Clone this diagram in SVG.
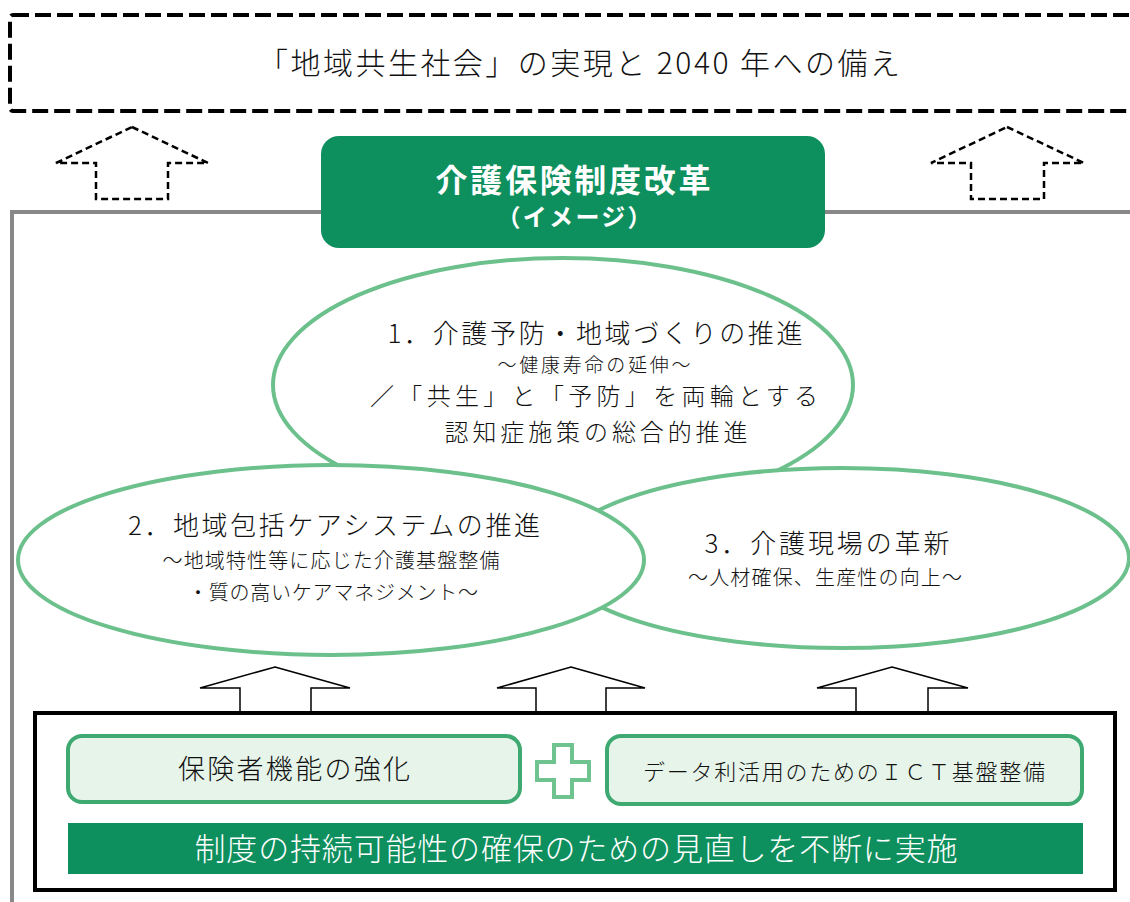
<svg xmlns="http://www.w3.org/2000/svg" width="1130" height="902" viewBox="0 0 1130 902">
<style>
text{font-family:"Noto Sans CJK JP","Noto Sans CJK SC",sans-serif;text-anchor:middle;fill:#111;font-weight:300;}
.ell{fill:#fff;stroke:#6cc08c;stroke-width:4;}
.darr{fill:none;stroke:#000;stroke-width:2.5;stroke-dasharray:7 4;stroke-linejoin:miter;}
.sarr{fill:#fff;stroke:#000;stroke-width:1.5;}
.gray{fill:none;stroke:#888;stroke-width:4;}
.lbox{fill:#e6f4e9;stroke:#3fa972;stroke-width:4;}
.dark{fill:#0e8f5e;}
.w{fill:#fff;}
.b{font-weight:bold;}
</style>
<rect width="1130" height="902" fill="#fff"/>

<g id="goal">
<rect x="10" y="15" width="1140" height="96" rx="3" fill="none" stroke="#000" stroke-width="4" stroke-dasharray="16 6"/>
<text x="579" y="74" font-size="30" textLength="642" lengthAdjust="spacing">「地域共生社会」の実現と 2040 年への備え</text>
</g>

<g id="connectors">
<polygon class="darr" points="132,127 208,163 168,163 168,199 96,199 96,163 56,163"/>
<polygon class="darr" points="1007,127 1084,163 1044,163 1044,199 971,199 971,163 931,163"/>
<path class="gray" d="M12,902 V212 H321 M825,212 H1130"/>
<polygon class="sarr" points="275,667 350,688 311,688 311,712 240,712 240,688 200,688"/>
<polygon class="sarr" points="571,667 645,688 606,688 606,712 536,712 536,688 497,688"/>
<polygon class="sarr" points="892,667 968,688 928,688 928,712 856,712 856,688 817,688"/>
</g>

<g id="reform">
<rect x="321" y="136" width="504" height="112" rx="18" class="dark"/>
<text class="w b" x="573" y="192" font-size="32" textLength="275" lengthAdjust="spacing">介護保険制度改革</text>
<text class="w b" x="574" y="226" font-size="24" textLength="155" lengthAdjust="spacing">（イメージ）</text>
</g>

<g id="pillar1">
<ellipse class="ell" cx="563" cy="385" rx="290" ry="127"/>
<text x="595" y="343" font-size="26" textLength="415" lengthAdjust="spacing">1．介護予防・地域づくりの推進</text>
<text x="594" y="372" font-size="19" textLength="193" lengthAdjust="spacing">～健康寿命の延伸～</text>
<text x="594" y="405" font-size="24" textLength="448" lengthAdjust="spacing">／「共生」と「予防」を両輪とする</text>
<text x="596" y="441" font-size="24" textLength="303" lengthAdjust="spacing">認知症施策の総合的推進</text>
</g>

<g id="pillar3">
<ellipse class="ell" cx="842" cy="558" rx="287" ry="90"/>
<text x="827" y="553" font-size="26" textLength="245" lengthAdjust="spacing">3．介護現場の革新</text>
<text x="825" y="585" font-size="20" textLength="274" lengthAdjust="spacing">～人材確保、生産性の向上～</text>
</g>

<g id="pillar2">
<ellipse class="ell" cx="331" cy="560" rx="313" ry="95"/>
<text x="334" y="535" font-size="26" textLength="412" lengthAdjust="spacing">2．地域包括ケアシステムの推進</text>
<text x="331" y="568" font-size="20" textLength="337" lengthAdjust="spacing">～地域特性等に応じた介護基盤整備</text>
<text x="333" y="600" font-size="20" textLength="290" lengthAdjust="spacing">・質の高いケアマネジメント～</text>
</g>

<g id="foundation">
<rect x="35" y="713" width="1080" height="177" fill="none" stroke="#000" stroke-width="4"/>
</g>

<g id="insurer">
<rect x="68" y="736" width="452" height="66" rx="14" class="lbox"/>
<text x="294" y="779" font-size="27" textLength="232" lengthAdjust="spacing">保険者機能の強化</text>
</g>

<g id="plus">
<polygon points="554,745 572,745 572,762 589,762 589,780 572,780 572,797 554,797 554,780 537,780 537,762 554,762" fill="#fff" stroke="#6ec38f" stroke-width="4"/>
</g>

<g id="ict">
<rect x="607" y="736" width="475" height="68" rx="14" class="lbox"/>
<text x="844" y="780" font-size="22" textLength="402" lengthAdjust="spacing">データ利活用のためのＩＣＴ基盤整備</text>
</g>

<g id="review">
<rect x="68" y="823" width="1015" height="51" class="dark"/>
<text class="w" x="576" y="860" font-size="31" textLength="763" lengthAdjust="spacing">制度の持続可能性の確保のための見直しを不断に実施</text>
</g>
</svg>
